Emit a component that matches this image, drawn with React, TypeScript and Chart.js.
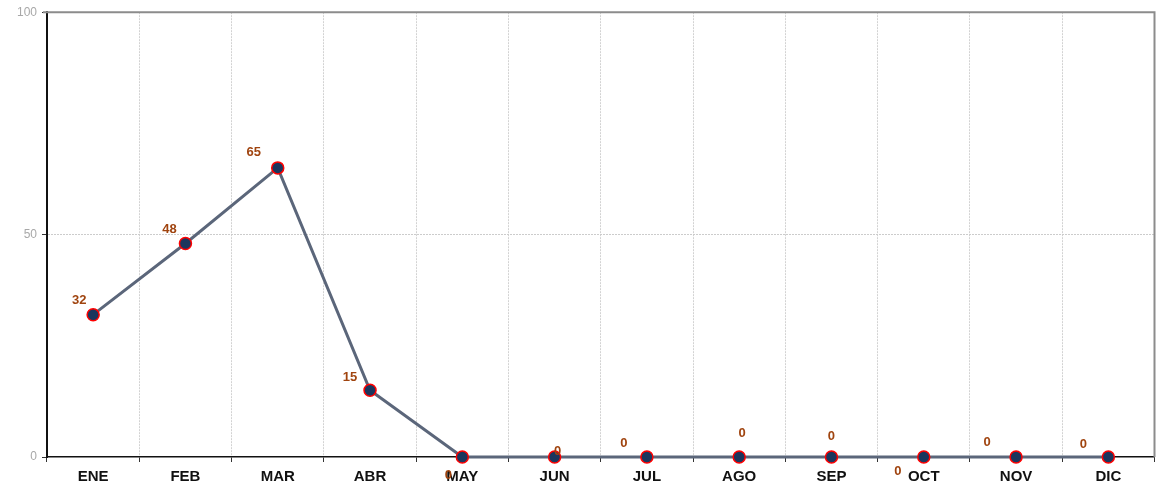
import React, { useEffect, useRef } from "react";
import { Chart, registerables } from "chart.js";

Chart.register(...registerables);

const months = ["ENE", "FEB", "MAR", "ABR", "MAY", "JUN", "JUL", "AGO", "SEP", "OCT", "NOV", "DIC"];
const values = [32, 48, 65, 15, 0, 0, 0, 0, 0, 0, 0, 0];
const yTicks = [0, 50, 100];
// label offsets relative to each point (as placed in the reference)
const labelDx = [-14, -16, -24, -20, -14, 3, -23, 3, 0, -26, -29, -25];
const labelDy = [-14, -14, -15, -13, 18, -6, -14, -24, -21, 14, -15, -13];

const FONT = "'Liberation Sans', Arial, sans-serif";

const labelPlugin = {
  id: "pointLabels",
  afterDatasetsDraw(chart: any) {
    const ctx = chart.ctx;
    const meta = chart.getDatasetMeta(0);
    ctx.save();
    ctx.font = `bold 13px ${FONT}`;
    ctx.fillStyle = "#a0440f";
    ctx.textAlign = "center";
    ctx.textBaseline = "middle";
    meta.data.forEach((pt: any, i: number) => {
      ctx.fillText(String(values[i]), pt.x + labelDx[i], pt.y + labelDy[i]);
    });
    ctx.restore();
  },
};

const framePlugin = {
  id: "frame",
  afterDraw(chart: any) {
    const { ctx, chartArea } = chart;
    ctx.save();
    ctx.strokeStyle = "#8c8c8c";
    ctx.lineWidth = 2;
    ctx.beginPath();
    ctx.moveTo(chartArea.left - 4, chartArea.top);
    ctx.lineTo(chartArea.right, chartArea.top);
    ctx.lineTo(chartArea.right, chartArea.bottom);
    ctx.stroke();
    ctx.restore();
  },
};

export default function App() {
  const ref = useRef<HTMLCanvasElement | null>(null);
  useEffect(() => {
    if (!ref.current) return;
    const chart = new Chart(ref.current, {
      type: "line",
      data: {
        labels: months,
        datasets: [
          {
            data: values,
            borderColor: "#5b667a",
            borderWidth: 3,
            tension: 0,
            pointRadius: 6,
            pointBackgroundColor: "#1b365d",
            pointBorderColor: "#ff0000",
            pointBorderWidth: 1.5,
            clip: false as any,
          },
        ],
      },
      options: {
        animation: false,
        responsive: false,
        layout: { padding: { top: 11, right: 1, left: 0, bottom: 0 } },
        plugins: { legend: { display: false }, tooltip: { enabled: false } },
        scales: {
          x: {
            type: "category",
            offset: true,
            grid: {
              offset: true,
              color: "#d2d2d2",
              lineWidth: 1,
              tickColor: "#333",
              tickLength: 5,
              drawTicks: true,
            },
            border: { color: "#111", width: 1.5, dash: [2, 1] },
            ticks: {
              color: "#111",
              font: { family: FONT, size: 15, weight: "bold" },
              padding: 6,
            },
            afterFit(scale: any) {
              scale.height = 31;
            },
          },
          y: {
            min: 0,
            max: 100,
            afterBuildTicks(scale: any) {
              scale.ticks = yTicks.map((v) => ({ value: v }));
            },
            grid: {
              color: (c: any) => (c.tick && c.tick.value === 50 ? "#cccccc" : "transparent"),
              tickColor: "#333",
              tickLength: 5,
            },
            border: { color: "#111", width: 2, dash: [2, 1] },
            ticks: {
              color: "#a8a8a8",
              font: { family: FONT, size: 12 },
              padding: 5,
            },
            afterFit(scale: any) {
              scale.width = 47;
            },
          },
        },
      },
      plugins: [labelPlugin, framePlugin],
    });
    return () => chart.destroy();
  }, []);
  return (
    <div style={{ position: "absolute", left: 0, top: 0, width: 1156, height: 488, overflow: "hidden" }}>
      <canvas ref={ref} width={1162} height={488} style={{ display: "block" }} />
    </div>
  );
}
